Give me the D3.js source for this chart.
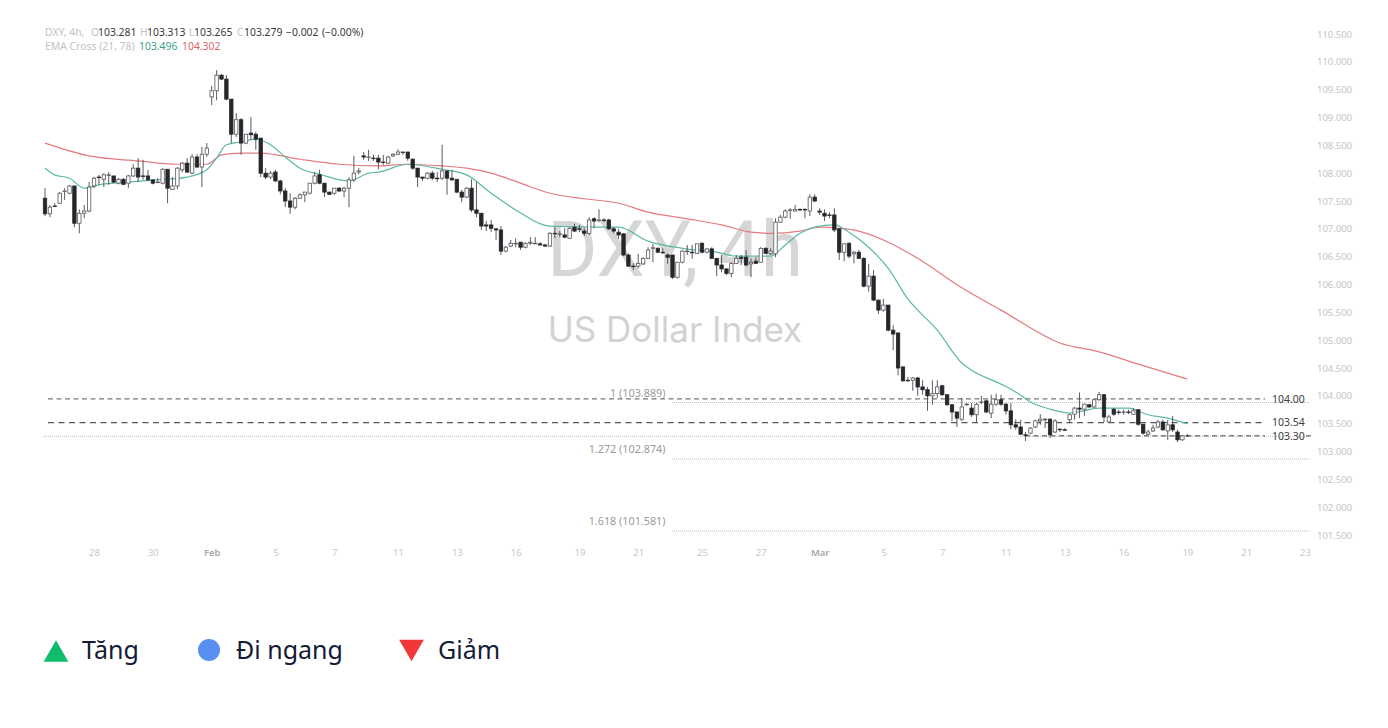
<!DOCTYPE html>
<html>
<head>
<meta charset="utf-8">
<title>DXY, 4h</title>
<script src="https://cdnjs.cloudflare.com/ajax/libs/d3/7.8.5/d3.min.js"></script>
<style>
  html, body { margin: 0; background: #fff; }
  svg { display: block; }
</style>
</head>
<body>
<svg id="chart" width="1388" height="728"></svg>
<script>
// candles, one entry per 4h bar
var opens = [
  107.55,107.27,107.41,107.46,107.67,107.64,107.77,107.10,107.28,107.32,
  107.77,107.93,107.89,107.96,107.95,107.82,107.89,107.82,107.95,108.09,
  107.95,107.95,107.88,107.83,107.82,108.07,107.71,107.77,108.06,108.18,
  108.00,108.29,108.11,108.34,109.37,109.48,109.76,109.69,109.33,108.70,
  108.96,108.54,108.72,108.70,108.63,108.00,107.93,108.02,107.86,107.68,
  107.50,107.39,107.55,107.61,107.64,107.82,107.97,107.82,107.66,107.64,
  107.73,107.68,107.73,107.88,108.02,108.31,108.28,108.27,108.27,108.20,
  108.18,108.31,108.34,108.38,108.38,108.25,108.09,107.93,107.91,108.00,
  107.91,107.91,108.04,107.91,107.89,107.66,107.57,107.73,107.34,107.28,
  107.07,107.07,107.00,106.98,106.60,106.69,106.73,106.76,106.67,106.74,
  106.73,106.73,106.71,106.69,106.92,106.90,106.89,106.83,107.03,107.00,
  106.96,106.92,107.18,107.15,107.16,107.16,107.00,106.94,106.91,106.53,
  106.33,106.33,106.37,106.47,106.65,106.65,106.58,106.53,106.53,106.13,
  106.40,106.59,106.58,106.56,106.74,106.58,106.64,106.47,106.35,106.28,
  106.20,106.38,106.49,106.49,106.37,106.42,106.40,106.65,106.56,106.55,
  107.12,107.21,107.33,107.32,107.35,107.35,107.32,107.57,107.32,107.28,
  107.25,107.25,107.00,106.58,106.74,106.55,106.58,106.47,105.97,106.15,
  105.72,105.54,105.63,105.18,105.13,104.52,104.28,104.28,104.32,104.16,
  104.11,104.00,104.04,104.18,104.02,103.84,103.71,103.58,103.84,103.78,
  103.66,103.88,103.91,103.69,103.85,103.93,103.85,103.73,103.48,103.44,
  103.30,103.33,103.44,103.55,103.57,103.58,103.35,103.40,103.39,103.57,
  103.67,103.78,103.76,103.84,103.80,103.93,104.02,103.53,103.76,103.71,
  103.70,103.71,103.67,103.75,103.49,103.31,103.37,103.44,103.53,103.37,
  103.48,103.35,103.21,103.281
];
var closes = [
  107.27,107.39,107.40,107.64,107.68,107.77,107.10,107.28,107.32,107.75,
  107.91,107.92,107.97,107.97,107.84,107.89,107.80,107.95,108.09,107.93,
  107.94,107.88,107.82,107.84,108.07,107.73,107.77,108.09,108.18,108.02,
  108.29,108.11,108.34,108.45,109.48,109.76,109.69,109.33,108.70,108.96,
  108.54,108.70,108.69,108.61,108.00,107.93,108.00,107.86,107.68,107.50,
  107.39,107.55,107.61,107.66,107.82,107.95,107.82,107.66,107.62,107.73,
  107.68,107.73,107.88,108.00,108.04,108.29,108.29,108.26,108.20,108.19,
  108.29,108.34,108.38,108.37,108.27,108.09,107.93,107.91,108.00,107.91,
  107.90,108.04,107.91,107.88,107.66,107.57,107.73,107.34,107.28,107.05,
  107.05,107.01,106.98,106.60,106.67,106.74,106.74,106.67,106.74,106.76,
  106.74,106.71,106.69,106.92,106.91,106.91,106.85,107.01,106.96,106.99,
  106.92,107.16,107.14,107.16,107.15,107.00,106.96,106.89,106.53,106.33,
  106.32,106.38,106.47,106.62,106.66,106.58,106.57,106.49,106.13,106.40,
  106.60,106.60,106.57,106.73,106.58,106.64,106.47,106.35,106.28,106.20,
  106.38,106.47,106.47,106.35,106.40,106.38,106.65,106.56,106.60,107.12,
  107.21,107.32,107.34,107.35,107.34,107.34,107.57,107.50,107.30,107.23,
  107.24,106.98,106.58,106.73,106.51,106.58,106.47,105.97,106.15,105.72,
  105.54,105.63,105.18,105.11,104.50,104.27,104.27,104.32,104.16,104.11,
  104.00,104.04,104.16,104.02,103.84,103.71,103.60,103.80,103.85,103.66,
  103.85,103.89,103.71,103.85,103.93,103.85,103.73,103.48,103.44,103.31,
  103.29,103.42,103.55,103.58,103.58,103.30,103.55,103.39,103.38,103.66,
  103.78,103.76,103.85,103.80,103.93,104.02,103.62,103.62,103.67,103.70,
  103.71,103.70,103.73,103.49,103.33,103.35,103.42,103.53,103.39,103.48,
  103.39,103.21,103.28,103.279
];
var highs = [
  107.73,107.43,107.46,107.66,107.73,107.79,107.77,107.35,107.43,107.84,
  107.93,107.97,108.00,108.02,107.95,107.91,107.91,107.97,108.16,108.27,
  108.24,108.06,107.88,107.91,108.09,108.07,107.93,108.11,108.20,108.27,
  108.34,108.34,108.47,108.54,109.57,109.85,109.78,109.76,109.33,109.08,
  108.99,108.70,109.01,108.74,108.63,108.09,108.04,108.06,107.88,107.73,
  107.64,107.57,107.64,107.66,107.82,108.02,108.06,107.82,107.66,107.73,
  107.75,107.75,107.93,108.31,108.09,108.38,108.42,108.33,108.33,108.33,
  108.31,108.36,108.43,108.38,108.38,108.27,108.09,107.93,108.02,108.04,
  108.02,108.51,108.04,108.06,107.89,107.70,107.75,107.89,107.84,107.28,
  107.14,107.16,107.01,107.05,106.69,106.80,106.83,106.76,106.76,106.85,
  106.85,106.76,106.73,106.94,107.03,106.96,107.01,107.03,107.09,107.07,
  107.01,107.21,107.21,107.35,107.19,107.18,107.03,107.00,106.92,106.55,
  106.38,106.55,106.49,106.67,106.73,106.67,106.65,106.56,106.53,106.40,
  106.62,106.71,106.71,106.73,106.76,106.65,106.67,106.47,106.53,106.29,
  106.40,106.53,106.53,106.62,106.47,106.49,106.67,106.67,106.65,107.19,
  107.25,107.35,107.37,107.43,107.37,107.37,107.62,107.62,107.37,107.35,
  107.30,107.37,107.01,106.74,106.76,106.60,106.62,106.49,106.37,106.26,
  105.72,105.74,105.63,105.27,105.13,104.52,104.34,104.34,104.34,104.28,
  104.16,104.28,104.28,104.20,104.02,103.84,103.71,103.96,103.87,103.87,
  103.87,104.00,103.93,104.02,104.04,104.02,103.87,103.87,103.58,103.57,
  103.35,103.44,103.57,103.67,103.60,103.60,103.58,103.42,103.42,103.67,
  103.80,104.06,103.85,103.85,103.94,104.07,104.02,103.66,103.78,103.75,
  103.75,103.75,103.78,103.76,103.49,103.39,103.48,103.57,103.57,103.57,
  103.64,103.39,103.28,103.313
];
var lows = [
  107.23,107.21,107.39,107.45,107.52,107.62,107.03,106.92,107.19,107.30,
  107.73,107.79,107.75,107.79,107.82,107.80,107.79,107.73,107.93,107.84,
  107.88,107.86,107.80,107.82,107.80,107.46,107.70,107.71,108.02,108.00,
  107.98,108.09,107.75,108.29,109.22,109.31,109.67,109.31,108.54,108.65,
  108.33,108.52,108.60,108.42,107.93,107.89,107.89,107.84,107.62,107.39,
  107.27,107.35,107.54,107.48,107.62,107.80,107.80,107.57,107.61,107.61,
  107.66,107.57,107.39,107.84,107.98,108.24,108.22,108.22,108.07,108.15,
  108.16,108.29,108.33,108.33,108.22,108.06,107.75,107.86,107.89,107.88,
  107.84,107.88,107.61,107.86,107.64,107.48,107.55,107.30,107.21,106.98,
  106.96,106.94,106.80,106.53,106.58,106.67,106.67,106.62,106.65,106.71,
  106.73,106.70,106.68,106.68,106.83,106.85,106.83,106.82,106.94,106.94,
  106.87,106.89,107.01,107.12,107.12,106.98,106.92,106.82,106.51,106.32,
  106.26,106.29,106.35,106.46,106.40,106.56,106.55,106.37,106.10,106.11,
  106.38,106.53,106.46,106.55,106.56,106.56,106.46,106.15,106.22,106.17,
  106.13,106.37,106.35,106.33,106.13,106.37,106.39,106.55,106.53,106.49,
  107.11,107.19,107.18,107.31,107.32,107.19,107.23,107.48,107.25,107.14,
  107.19,106.94,106.44,106.42,106.47,106.38,106.46,105.95,105.87,105.70,
  105.47,105.51,105.16,104.82,104.37,104.25,104.25,104.09,104.00,104.02,
  103.73,103.84,103.96,104.00,103.82,103.55,103.44,103.55,103.82,103.62,
  103.53,103.85,103.69,103.60,103.82,103.82,103.66,103.40,103.39,103.30,
  103.19,103.31,103.42,103.48,103.42,103.24,103.33,103.35,103.37,103.51,
  103.57,103.60,103.64,103.78,103.78,103.91,103.53,103.51,103.64,103.66,
  103.66,103.67,103.66,103.46,103.30,103.30,103.35,103.42,103.37,103.21,
  103.35,103.17,103.19,103.265
];

// moving averages, read at the bars listed in the index arrays
var emaFastBars = [0,2,5,8,11,17,23,29,33,35,37,40,43,46,49,52,56,62,66,68,74,81,86,91,96,103,113,117,123,130,137,141,148,151,154,157,161,164,168,172,176,182,187,189,195,198,201,205,209,215,221,225,229,233];
var emaFastValues = [108.09,107.97,107.91,107.73,107.79,107.84,107.88,107.93,108.06,108.27,108.51,108.56,108.61,108.51,108.29,108.09,107.98,107.86,108.00,108.02,108.16,108.07,107.97,107.64,107.34,107.05,107.03,107.03,106.78,106.65,106.58,106.51,106.51,106.71,106.92,107.03,107.07,106.94,106.67,106.29,105.74,105.18,104.59,104.46,104.21,104.07,103.89,103.76,103.69,103.78,103.78,103.66,103.60,103.496];
var emaSlowBars = [0,9,19,27,33,36,40,44,52,60,68,74,81,86,91,97,103,110,117,123,131,138,144,148,154,158,162,166,172,178,187,195,207,215,223,233];
var emaSlowValues = [108.54,108.31,108.22,108.16,108.16,108.33,108.36,108.36,108.25,108.16,108.13,108.16,108.13,108.09,108.00,107.82,107.64,107.54,107.46,107.30,107.18,107.07,106.94,106.92,106.96,107.03,107.01,106.96,106.76,106.47,105.94,105.54,104.95,104.79,104.57,104.302];

// axis ticks
var priceTicks = [101.5,102,102.5,103,103.5,104,104.5,105,105.5,106,106.5,107,107.5,108,108.5,109,109.5,110,110.5];
var dateBars = [10,22,34,47,59,72,84,96,109,121,134,146,158,171,183,196,208,220,233,245,257];
var dateLabels = ['28','30','Feb','5','7','11','13','16','19','21','25','27','Mar','5','7','11','13','16','19','21','23'];

// drawn levels
var levelValues = [103.945,103.52,103.281];
var levelLabels = ['104.00','103.54','103.30'];
var fibValues = [103.889,102.874,101.581];
var fibLabels = ['1 (103.889)','1.272 (102.874)','1.618 (101.581)'];

var legendNames = ['Tăng','Đi ngang','Giảm'];

var svg = d3.select('#chart');
var font = '"Noto Sans", sans-serif';

var x = d3.scaleLinear().domain([0, 257]).range([45, 1305]);
var y = d3.scaleLinear().domain([101.5, 110.5]).range([535, 34]);

// watermark
svg.append('text').attr('x', 675).attr('y', 276).attr('text-anchor', 'middle')
    .attr('font-family', 'Roboto, sans-serif').attr('font-size', 77).attr('fill', '#d6d6d6').text('DXY, 4h');
svg.append('text').attr('x', 675).attr('y', 342).attr('text-anchor', 'middle')
    .attr('font-family', 'Inter, sans-serif').attr('font-size', 35).attr('fill', '#d2d2d2').text('US Dollar Index');

// axes
var yAxis = d3.axisRight(y).tickValues(priceTicks).tickSize(0).tickPadding(0).tickFormat(d3.format('.3f'));
var yG = svg.append('g').attr('transform', 'translate(1317,0)').call(yAxis);
yG.select('.domain').remove();
yG.selectAll('text').attr('font-family', font).attr('font-size', 9.5).attr('fill', '#c4c4c4');

var xAxis = d3.axisBottom(x).tickValues(dateBars).tickSize(0).tickPadding(0)
    .tickFormat(function(d, i) { return dateLabels[i]; });
var xG = svg.append('g').attr('transform', 'translate(0,549)').call(xAxis);
xG.select('.domain').remove();
xG.selectAll('text').attr('font-family', font).attr('font-size', 9.5)
    .attr('fill', function(d, i) { return isNaN(+dateLabels[i]) ? '#a8a8a8' : '#c8c8c8'; })
    .attr('font-weight', function(d, i) { return isNaN(+dateLabels[i]) ? 600 : 400; });

// fib levels
svg.selectAll('.fib').data(fibValues).enter().append('line')
    .attr('class', 'fib')
    .attr('x1', 672).attr('x2', 1310)
    .attr('y1', function(d) { return y(d) + 0.5; })
    .attr('y2', function(d) { return y(d) + 0.5; })
    .attr('stroke', '#bdbdbd').attr('stroke-width', 1).attr('stroke-dasharray', '1 1');
svg.selectAll('.fib-label').data(fibValues).enter().append('text')
    .attr('class', 'fib-label')
    .attr('x', 665.5)
    .attr('y', function(d) { return y(d) - 5.5; })
    .attr('text-anchor', 'end')
    .attr('font-family', font).attr('font-size', 10.8).attr('fill', '#9a9a9a')
    .text(function(d, i) { return fibLabels[i]; });

// the close line runs the whole width
svg.append('line').attr('x1', 44).attr('x2', 1310)
    .attr('y1', y(levelValues[2]) + 0.5).attr('y2', y(levelValues[2]) + 0.5)
    .attr('stroke', '#c9b8b8').attr('stroke-width', 1).attr('stroke-dasharray', '1 1');

// hand drawn levels
svg.append('line').attr('x1', 48).attr('x2', 1265)
    .attr('y1', y(levelValues[0])).attr('y2', y(levelValues[0]))
    .attr('stroke', '#555').attr('stroke-width', 1).attr('stroke-dasharray', '5 3.5');
svg.append('line').attr('x1', 48).attr('x2', 1265)
    .attr('y1', y(levelValues[1])).attr('y2', y(levelValues[1]))
    .attr('stroke', '#555').attr('stroke-width', 1.2).attr('stroke-dasharray', '6 4.5');
svg.append('line').attr('x1', 1025).attr('x2', 1265)
    .attr('y1', y(levelValues[2])).attr('y2', y(levelValues[2]))
    .attr('stroke', '#444').attr('stroke-width', 1).attr('stroke-dasharray', '5 3.5');
svg.append('line').attr('x1', 1306).attr('x2', 1311)
    .attr('y1', y(levelValues[2])).attr('y2', y(levelValues[2]))
    .attr('stroke', '#444').attr('stroke-width', 1);
svg.selectAll('.level-label').data(levelValues).enter().append('text')
    .attr('class', 'level-label')
    .attr('x', 1272)
    .attr('y', function(d) { return y(d); })
    .attr('dy', '0.36em')
    .attr('font-family', font).attr('font-size', 10.5).attr('fill', '#3c3c3c')
    .text(function(d, i) { return levelLabels[i]; });

// ema lines
var emaLine = d3.line().curve(d3.curveMonotoneX);
svg.append('path')
    .attr('d', emaLine(emaSlowBars.map(function(b, i) { return [x(b), y(emaSlowValues[i])]; })))
    .attr('fill', 'none').attr('stroke', '#e57b7f').attr('stroke-width', 1.2);
svg.append('path')
    .attr('d', emaLine(emaFastBars.map(function(b, i) { return [x(b), y(emaFastValues[i])]; })))
    .attr('fill', 'none').attr('stroke', '#5bb9a5').attr('stroke-width', 1.2);

// candles
var barWidth = 3.4;
var candles = svg.selectAll('.candle').data(opens).enter().append('g').attr('class', 'candle');
candles.append('line')
    .attr('x1', function(d, i) { return x(i); })
    .attr('x2', function(d, i) { return x(i); })
    .attr('y1', function(d, i) { return y(highs[i]); })
    .attr('y2', function(d, i) { return y(lows[i]); })
    .attr('stroke', '#4a4a4f').attr('stroke-width', 0.9);
candles.append('rect')
    .attr('x', function(d, i) { return x(i) - barWidth / 2; })
    .attr('y', function(d, i) { return y(Math.max(d, closes[i])); })
    .attr('width', barWidth)
    .attr('height', function(d, i) { return Math.abs(y(d) - y(closes[i])); })
    .attr('fill', function(d, i) { return closes[i] >= d ? '#fff' : '#26262c'; })
    .attr('stroke', function(d, i) { return closes[i] >= d ? '#55555a' : '#26262c'; })
    .attr('stroke-width', 0.8);

// header
var headParts = [
    ['DXY, 4h,', '#c2c2c2', 45], ['O', '#c2c2c2', 91], ['103.281', '#3a3a3a', 98],
    ['H', '#c2c2c2', 140], ['103.313', '#3a3a3a', 147], ['L', '#c2c2c2', 189], ['103.265', '#3a3a3a', 194],
    ['C', '#c2c2c2', 237], ['103.279', '#3a3a3a', 244], ['−0.002', '#3a3a3a', 286], ['(−0.00%)', '#3a3a3a', 322],
    ['EMA Cross (21, 78)', '#c2c2c2', 45], ['103.496', '#3d9f8c', 139], ['104.302', '#d9656b', 182]
];
svg.selectAll('.head').data(headParts).enter().append('text')
    .attr('class', 'head')
    .attr('x', function(d) { return d[2]; })
    .attr('y', function(d, i) { return i < 11 ? 35.5 : 49.5; })
    .attr('font-family', font).attr('font-size', 10.4)
    .attr('fill', function(d) { return d[1]; })
    .text(function(d) { return d[0]; });

// legend
var triangle = d3.symbol().type(d3.symbolTriangle).size(265);
svg.append('path').attr('d', triangle()).attr('transform', 'translate(56,654.5)').attr('fill', '#10bb6c');
svg.append('circle').attr('cx', 209).attr('cy', 650).attr('r', 11).attr('fill', '#5a8ff2');
svg.append('path').attr('d', triangle()).attr('transform', 'translate(411.5,647) rotate(180)').attr('fill', '#f13838');
svg.selectAll('.legend').data(legendNames).enter().append('text')
    .attr('class', 'legend')
    .attr('x', function(d, i) { return [82, 236, 438][i]; })
    .attr('y', 659)
    .attr('font-family', font).attr('font-size', 25).attr('fill', '#141b38')
    .text(function(d) { return d; });
</script>
</body>
</html>
